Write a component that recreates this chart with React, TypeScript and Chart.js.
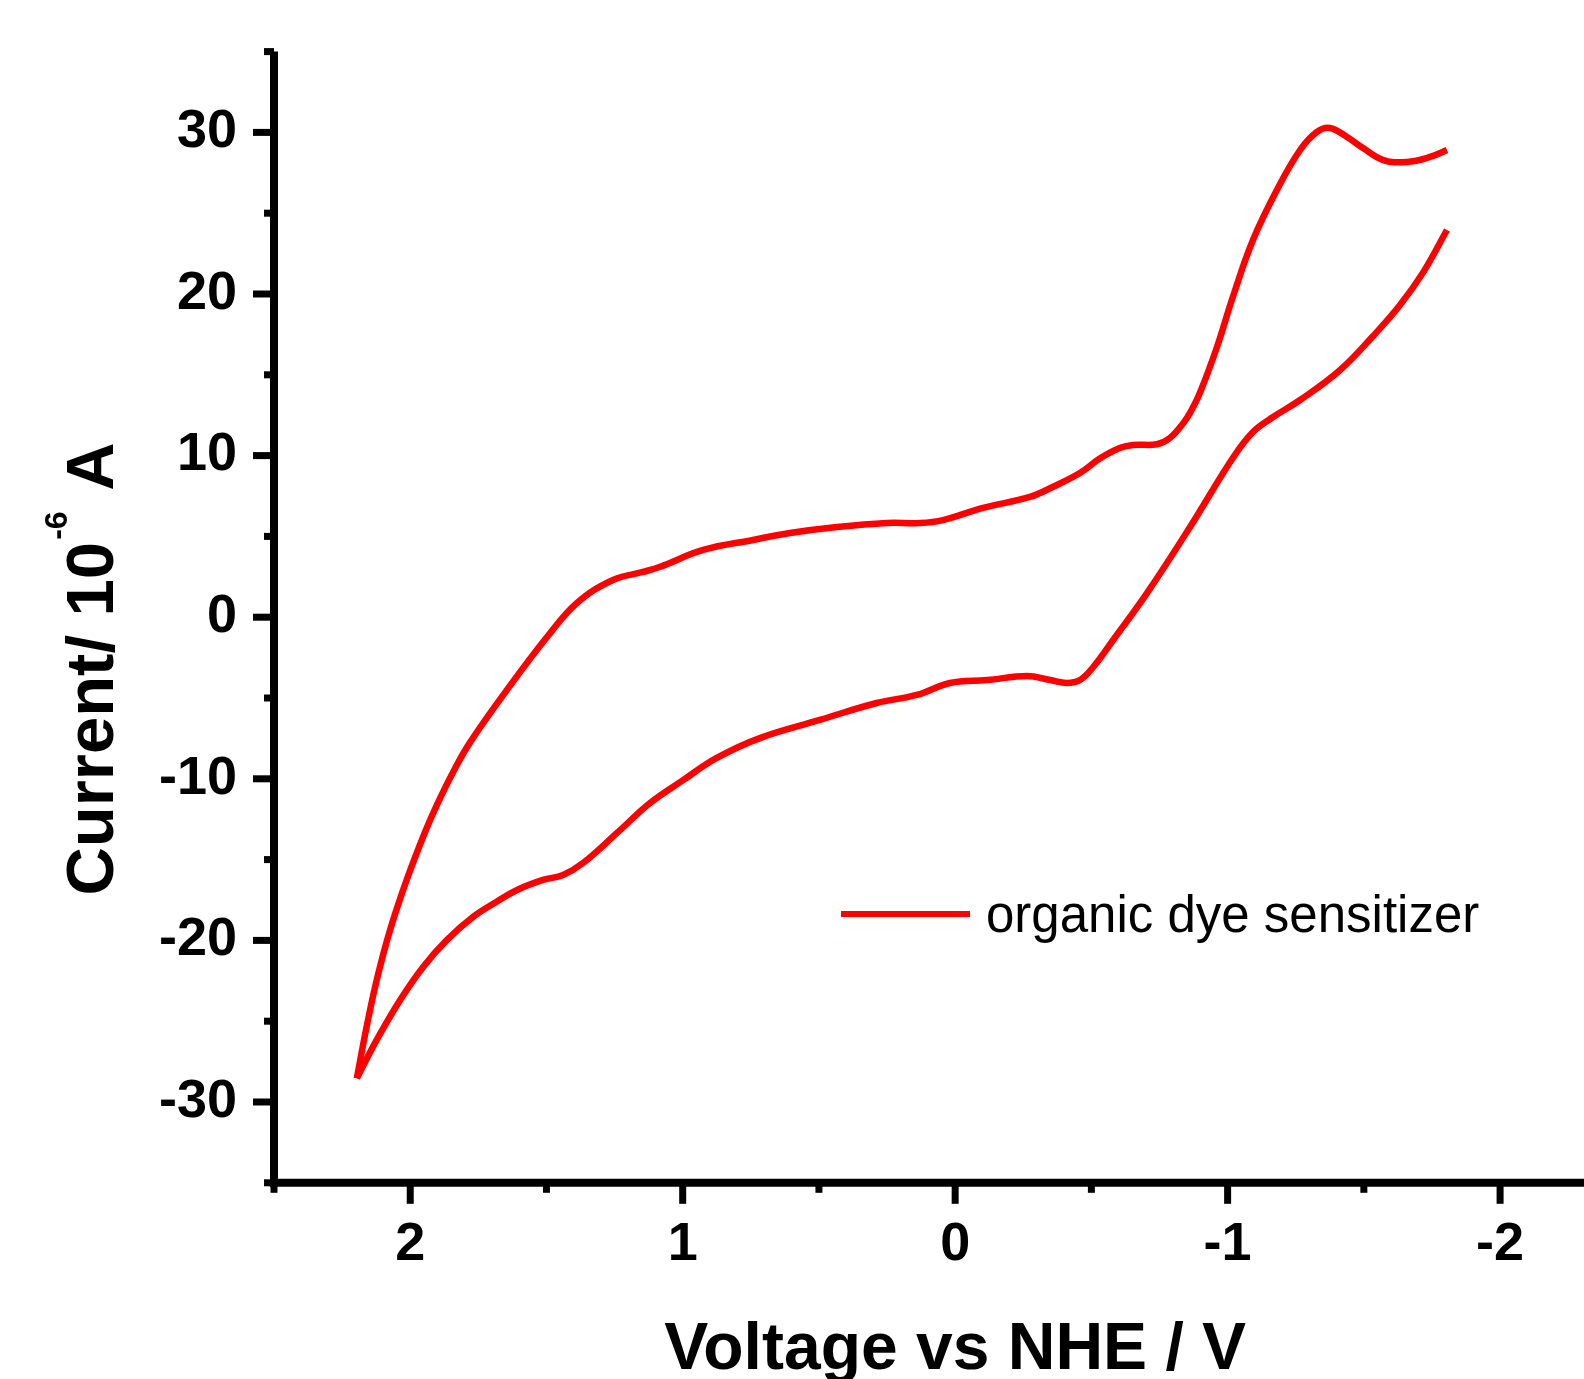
import { useEffect, useRef } from 'react';
import { Chart, registerables } from 'chart.js';

Chart.register(...registerables);

const SERIES_LABEL = 'organic dye sensitizer';
const SERIES_COLOR = '#ff0000';

// Return (lower) branch, from the right end back to the left tip
const LOWER_V = [-1.805, -1.72, -1.632, -1.534, -1.413, -1.266, -1.167, -1.093, -1.019, -0.862, -0.704, -0.58, -0.507, -0.458, -0.41, -0.348, -0.264, -0.117, 0.019, 0.141, 0.288, 0.497, 0.717, 0.875, 1.0, 1.12, 1.241, 1.366, 1.439, 1.513, 1.608, 1.683, 1.768, 1.866, 1.952, 2.037, 2.123, 2.196];
const LOWER_I = [23.96, 21.4, 19.3, 17.4, 15.3, 13.44, 12.39, 11.46, 9.85, 5.58, 1.49, -1.41, -3.08, -3.89, -4.07, -3.89, -3.64, -3.89, -4.07, -4.81, -5.31, -6.36, -7.48, -8.71, -10.1, -11.5, -13.35, -15.21, -15.95, -16.26, -16.88, -17.61, -18.53, -19.98, -21.63, -23.69, -26.16, -28.53];

// Forward (upper) branch, from the left tip to the right end
const UPPER_V = [2.196, 2.16, 2.123, 2.074, 2.013, 1.946, 1.902, 1.84, 1.781, 1.645, 1.498, 1.388, 1.256, 1.146, 1.083, 0.925, 0.742, 0.606, 0.434, 0.251, 0.13, 0.045, -0.102, -0.274, -0.358, -0.458, -0.532, -0.604, -0.653, -0.74, -0.788, -0.837, -0.862, -0.898, -0.961, -1.019, -1.093, -1.181, -1.266, -1.328, -1.375, -1.438, -1.497, -1.571, -1.658, -1.743, -1.805];
const UPPER_I = [-28.53, -25.34, -22.45, -19.36, -16.26, -13.31, -11.61, -9.5, -7.76, -4.5, -1.23, 0.88, 2.3, 2.8, 3.12, 4.16, 4.78, 5.21, 5.58, 5.83, 5.83, 6.01, 6.76, 7.44, 8.06, 8.92, 9.83, 10.47, 10.66, 10.7, 11.09, 12.0, 12.64, 13.87, 16.72, 19.81, 23.34, 26.44, 28.91, 30.03, 30.27, 29.72, 29.03, 28.29, 28.17, 28.48, 28.91];

const X_TICKS = [2, 1, 0, -1, -2];
const X_MINOR_TICKS = [2.5, 1.5, 0.5, -0.5, -1.5];
const Y_TICKS = [30, 20, 10, 0, -10, -20, -30];
const Y_MINOR_TICKS = [35, 25, 15, 5, -5, -15, -25, -35];
const X_MIN = -2.308;
const X_MAX = 2.5;
const Y_MIN = -35;
const Y_MAX = 35;

const X_TITLE = 'Voltage vs NHE / V';
const Y_TITLE_MAIN = 'Current/ 10';
const Y_TITLE_SUP = '-6';
const Y_TITLE_END = ' A';

const W = 1584;
const H = 1379;
const FONT = "'Liberation Sans', Arial, Helvetica, sans-serif";

const toPoints = (vs: number[], is: number[]) => vs.map((v, k) => ({ x: v, y: is[k] }));

const originPlugin = {
  id: 'originAxes',
  afterDraw(chart: any) {
    const { ctx, chartArea: a, scales } = chart;
    const xs = scales.x;
    const ys = scales.y;
    ctx.save();
    ctx.strokeStyle = '#000';
    ctx.lineCap = 'butt';
    // axis lines
    ctx.lineWidth = 8;
    ctx.beginPath();
    ctx.moveTo(a.left, a.top);
    ctx.lineTo(a.left, a.bottom + 4);
    ctx.stroke();
    ctx.beginPath();
    ctx.moveTo(a.left - 4, a.bottom);
    ctx.lineTo(a.right, a.bottom);
    ctx.stroke();
    // ticks
    ctx.lineWidth = 7;
    const seg = (x1: number, y1: number, x2: number, y2: number) => {
      ctx.beginPath();
      ctx.moveTo(x1, y1);
      ctx.lineTo(x2, y2);
      ctx.stroke();
    };
    Y_TICKS.forEach((v) => {
      const y = ys.getPixelForValue(v);
      seg(a.left - 21, y, a.left, y);
    });
    Y_MINOR_TICKS.forEach((v) => {
      const y = ys.getPixelForValue(v);
      seg(a.left - 10, y, a.left, y);
    });
    X_TICKS.forEach((v) => {
      const x = xs.getPixelForValue(v);
      seg(x, a.bottom, x, a.bottom + 21);
    });
    X_MINOR_TICKS.forEach((v) => {
      const x = xs.getPixelForValue(v);
      seg(x, a.bottom, x, a.bottom + 10);
    });

    // x title
    ctx.fillStyle = '#000';
    ctx.font = `bold 66px ${FONT}`;
    ctx.textAlign = 'center';
    ctx.textBaseline = 'alphabetic';
    ctx.fillText(X_TITLE, xs.getPixelForValue(0), 1369);

    // y title (rotated, with superscript)
    ctx.save();
    ctx.translate(113, 669);
    ctx.rotate(-Math.PI / 2);
    ctx.textAlign = 'left';
    const mainFont = `bold 67px ${FONT}`;
    const supFont = `bold 32px ${FONT}`;
    ctx.font = mainFont;
    const w1 = ctx.measureText(Y_TITLE_MAIN).width;
    const w3 = ctx.measureText(Y_TITLE_END).width;
    ctx.font = supFont;
    const w2 = ctx.measureText(Y_TITLE_SUP).width + 4;
    const total = w1 + w2 + w3;
    let x0 = -total / 2;
    ctx.font = mainFont;
    ctx.fillText(Y_TITLE_MAIN, x0, 0);
    x0 += w1;
    ctx.font = supFont;
    ctx.fillText(Y_TITLE_SUP, x0 + 2, -46);
    x0 += w2;
    ctx.font = mainFont;
    ctx.fillText(Y_TITLE_END, x0, 0);
    ctx.restore();

    // legend
    const ds = chart.data.datasets[0];
    ctx.strokeStyle = ds.borderColor;
    ctx.lineWidth = 6;
    seg(841, 914, 970, 914);
    ctx.fillStyle = '#000';
    ctx.font = `51px ${FONT}`;
    ctx.textAlign = 'left';
    ctx.textBaseline = 'alphabetic';
    ctx.fillText(ds.label, 986, 932);
    ctx.restore();
  },
};

const lineStyle = {
  showLine: true,
  borderColor: SERIES_COLOR,
  backgroundColor: SERIES_COLOR,
  borderWidth: 6.5,
  pointRadius: 0,
  tension: 0.4,
  borderJoinStyle: 'round',
  borderCapStyle: 'butt',
};

export default function App() {
  const ref = useRef<HTMLCanvasElement | null>(null);

  useEffect(() => {
    if (!ref.current) return;
    const chart = new Chart(ref.current, {
      type: 'scatter',
      data: {
        datasets: [
          { label: SERIES_LABEL, data: toPoints(LOWER_V, LOWER_I), ...lineStyle },
          { label: SERIES_LABEL + ' (forward scan)', data: toPoints(UPPER_V, UPPER_I), ...lineStyle },
        ],
      },
      options: {
        responsive: false,
        animation: false,
        devicePixelRatio: 1,
        layout: { padding: { top: 51.6, right: 0, left: 0, bottom: 0 } },
        plugins: {
          legend: { display: false },
          tooltip: { enabled: false },
          title: { display: false },
        },
        scales: {
          x: {
            type: 'linear',
            reverse: true,
            min: X_MIN,
            max: X_MAX,
            grid: { display: false, drawTicks: false },
            border: { display: false },
            afterBuildTicks: (s: any) => {
              s.ticks = X_TICKS.map((v) => ({ value: v }));
            },
            afterFit: (s: any) => {
              s.height = H - 1182.8;
              s.paddingLeft = 0;
              s.paddingRight = 0;
            },
            ticks: {
              autoSkip: false,
              maxRotation: 0,
              padding: 30,
              color: '#000',
              font: { family: FONT, size: 54, weight: 'bold' },
              callback: (v: any) => String(v),
            },
          },
          y: {
            type: 'linear',
            min: Y_MIN,
            max: Y_MAX,
            grid: { display: false, drawTicks: false },
            border: { display: false },
            afterBuildTicks: (s: any) => {
              s.ticks = Y_TICKS.map((v) => ({ value: v }));
            },
            afterFit: (s: any) => {
              s.width = 274;
              s.paddingTop = 0;
              s.paddingBottom = 0;
            },
            ticks: {
              autoSkip: false,
              padding: 37,
              color: '#000',
              font: { family: FONT, size: 54, weight: 'bold' },
              callback: (v: any) => String(v),
            },
          },
        },
      },
      plugins: [originPlugin],
    } as any);
    return () => chart.destroy();
  }, []);

  return (
    <div style={{ position: 'absolute', left: 0, top: 0, width: W, height: H, background: '#fff' }}>
      <canvas ref={ref} width={W} height={H} style={{ display: 'block', width: W, height: H }} />
    </div>
  );
}
